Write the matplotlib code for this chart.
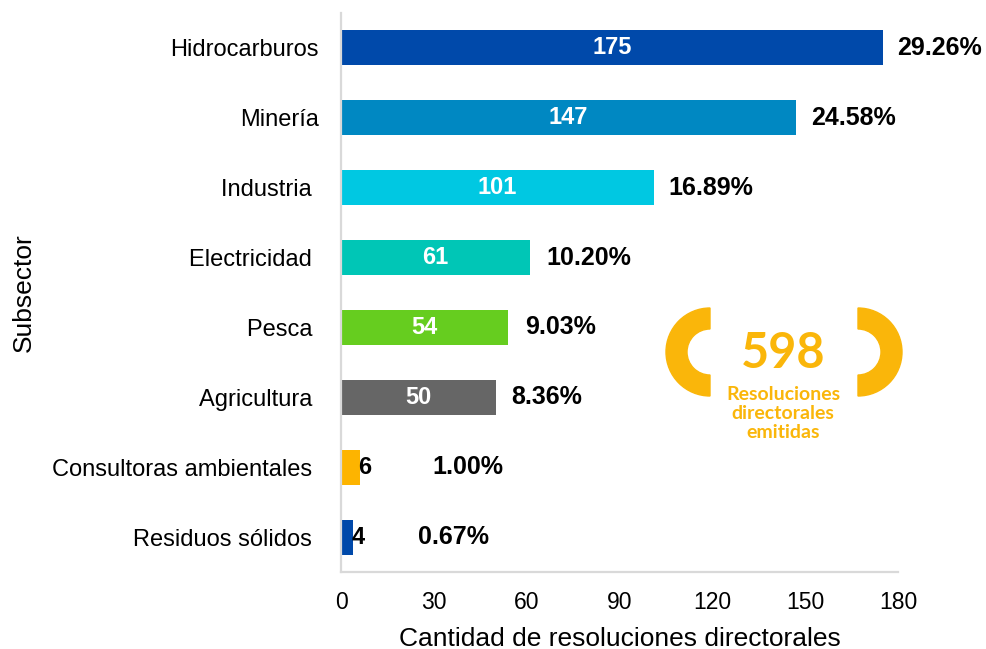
import matplotlib.pyplot as plt
from matplotlib.patches import Wedge

plt.rcParams['font.family'] = ['Liberation Sans', 'DejaVu Sans']

subsectores = ['Hidrocarburos', 'Minería', 'Industria ', 'Electricidad ', 'Pesca ',
               'Agricultura ', 'Consultoras ambientales ', 'Residuos sólidos ']
valores = [175, 147, 101, 61, 54, 50, 6, 4]
colores = ['#0049AA', '#0088C2', '#00C8E2', '#00C6B6', '#66CD1F', '#666666', '#FDB400', '#0049AA']
total = 598
# desplazamiento (px) de la etiqueta de porcentaje respecto al final de la barra
desp_pct = [15, 15, 15, 17, 17, 16, 73, 65]

amarillo = '#FAB60A'

fig = plt.figure(figsize=(9.86, 6.49), dpi=100)
ax = fig.add_axes([341 / 986, 1 - 572 / 649, (898 - 341) / 986, (572 - 13) / 649])

y = list(range(len(valores)))
ax.barh(y, valores, height=0.5, color=colores)
ax.set_ylim(len(valores) - 0.5, -0.5)
ax.set_xlim(0, 180)
ax.set_xticks([0, 30, 60, 90, 120, 150, 180])
ax.set_yticks(y)
ax.set_yticklabels(subsectores)
ax.tick_params(axis='both', length=0, labelsize=16.5, colors='#000000')
ax.tick_params(axis='y', pad=16, labelsize=17)
ax.tick_params(axis='x', pad=14)

for lado in ['top', 'right']:
    ax.spines[lado].set_visible(False)
for lado in ['left', 'bottom']:
    ax.spines[lado].set_color('#d9d9d9')
    ax.spines[lado].set_linewidth(1.6)

ax.set_xlabel('Cantidad de resoluciones directorales', fontsize=19, labelpad=9)
ax.set_ylabel('Subsector', fontsize=19, labelpad=12)

for i, v in enumerate(valores):
    if v >= 20:
        ax.text(v / 2, i, str(v), ha='center', va='center', color='white',
                fontsize=17, fontweight='bold')
    else:
        ax.annotate(str(v), xy=(v, i), xytext=(-1, 0), textcoords='offset points',
                    ha='left', va='center', color='black', fontsize=17, fontweight='bold')
    pct = f'{v / total * 100:.2f}%'
    ax.annotate(pct, xy=(v, i), xytext=(desp_pct[i] * 0.72, 0), textcoords='offset points',
                ha='left', va='center', color='black', fontsize=18, fontweight='bold')

# insignia del total
ov = fig.add_axes([0, 0, 1, 1])
ov.set_xlim(0, 986)
ov.set_ylim(649, 0)
ov.set_axis_off()
ov.add_patch(Wedge((710, 352), 44, 90, 270, width=21, color=amarillo))
ov.add_patch(Wedge((858, 352), 44, -90, 90, width=21, color=amarillo))
ov.text(783, 353, str(total), ha='center', va='center', color=amarillo,
        fontsize=35, fontweight='bold', family='Lato')
for k, linea in enumerate(['Resoluciones', 'directorales', 'emitidas']):
    ov.text(783, 395 + 18.5 * k, linea, ha='center', va='center',
            color=amarillo, fontsize=14, fontweight='bold', family='Lato')

fig.savefig('out.png', dpi=100)
